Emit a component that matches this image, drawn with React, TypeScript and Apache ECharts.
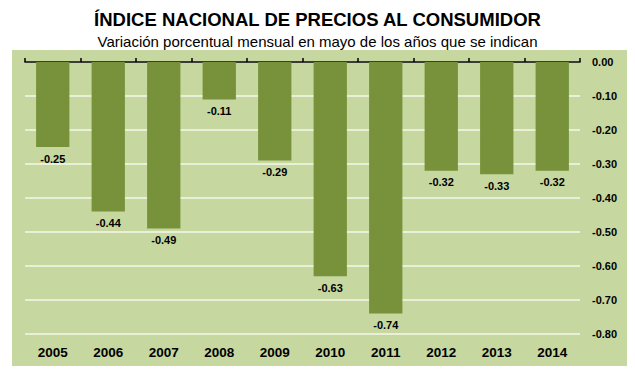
import React, { useEffect, useRef } from "react";
import * as echarts from "echarts";

const years = ["2005", "2006", "2007", "2008", "2009", "2010", "2011", "2012", "2013", "2014"];
const values = [-0.25, -0.44, -0.49, -0.11, -0.29, -0.63, -0.74, -0.32, -0.33, -0.32];
const titleText = "ÍNDICE NACIONAL DE PRECIOS AL CONSUMIDOR";
const subtitleText = "Variación porcentual mensual en mayo de los años que se indican";

export default function App() {
  const ref = useRef<HTMLDivElement>(null);
  useEffect(() => {
    if (!ref.current) return;
    const chart = echarts.init(ref.current, null, { renderer: "svg" });
    const font = "'Liberation Sans', Arial, sans-serif";
    chart.setOption({
      animation: false,
      backgroundColor: "#ffffff",
      graphic: [
        {
          type: "rect",
          z: -10,
          shape: { x: 12, y: 50, width: 615, height: 316 },
          style: { fill: "#c6d7a0" },
          silent: true,
        },
      ],
      title: [
        {
          text: titleText,
          left: "center",
          top: 5,
          textStyle: { fontFamily: font, fontSize: 18.5, fontWeight: "bold", color: "#000" },
        },
        {
          text: subtitleText,
          left: "center",
          top: 29,
          textStyle: { fontFamily: font, fontSize: 15, fontWeight: "normal", color: "#000" },
        },
      ],
      grid: { left: 25, right: 55, top: 62, bottom: 43, containLabel: false },
      xAxis: [
        {
          type: "category",
          data: years,
          position: "top",
          axisLine: { show: true, onZero: false, lineStyle: { color: "#000", width: 1.5 } },
          axisTick: { show: true, length: 4, lineStyle: { color: "#000", width: 1.5 } },
          axisLabel: { show: false },
          splitLine: { show: false },
        },
        {
          type: "category",
          data: years,
          position: "bottom",
          axisLine: { show: false },
          axisTick: { show: false },
          axisLabel: {
            show: true,
            margin: 11,
            fontFamily: font,
            fontSize: 13.5,
            fontWeight: "bold",
            color: "#000",
          },
        },
      ],
      yAxis: {
        type: "value",
        position: "right",
        min: -0.8,
        max: 0,
        interval: 0.1,
        axisLine: { show: false },
        axisTick: { show: false },
        axisLabel: {
          margin: 12,
          fontFamily: font,
          fontSize: 11,
          fontWeight: "bold",
          color: "#000",
          formatter: (v: number) => v.toFixed(2),
        },
        splitLine: { show: true, lineStyle: { color: "#f4f8ea", width: 1.5 } },
      },
      series: [
        {
          type: "bar",
          data: values,
          xAxisIndex: 0,
          barWidth: "60%",
          itemStyle: { color: "#77923b" },
          label: {
            show: true,
            position: "bottom",
            distance: 6,
            fontFamily: font,
            fontSize: 11,
            fontWeight: "bold",
            color: "#000",
            formatter: (p: any) => Number(p.value).toFixed(2),
          },
        },
      ],
    });
    return () => chart.dispose();
  }, []);
  return <div ref={ref} style={{ width: 635, height: 377, position: "absolute", left: 0, top: 0 }} />;
}
